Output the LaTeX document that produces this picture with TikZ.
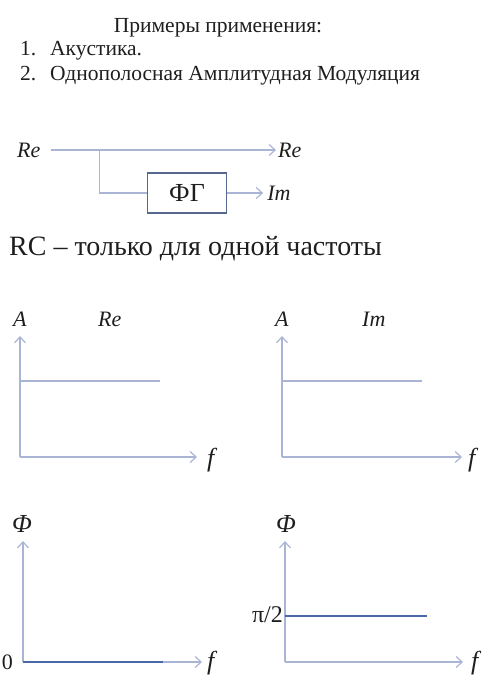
\documentclass[tikz,border=0pt]{standalone}
\usepackage{fontspec}
\setmainfont{Liberation Serif}
\usetikzlibrary{arrows.meta,positioning}

\definecolor{axisblue}{RGB}{170,181,214}
\definecolor{levelblue}{RGB}{74,104,168}
\definecolor{boxline}{RGB}{86,104,142}
\definecolor{inkgray}{RGB}{30,30,30}

\begin{document}
\begin{tikzpicture}[x=1pt, y=-1pt,
    every node/.style={inner sep=0pt, text=inkgray},
    head/.style={font=\fontsize{21.5}{26}\selectfont, anchor=base west},
    var/.style={font=\fontsize{22}{26}\selectfont\itshape, anchor=base west},
    fvar/.style={var, font=\fontsize{26}{30}\selectfont\itshape},
    fgbox/.style={draw=boxline, line width=1.2pt, minimum width=79pt, minimum height=40pt, font=\fontsize{26}{30}\selectfont},
    thin/.style={draw=axisblue, line width=1.2pt},
    line/.style={thin, -{Straight Barb[length=6pt, width=11pt]}},
    level/.style={draw=levelblue, line width=2.4pt}
]
\useasboundingbox (0,0) rectangle (502,689);

% header
\node[head, anchor=base] (title) at (218,32) {Примеры применения:};
\node[head] (num1) at (20,55) {1.};
\node[head] (item1) at (50,55) {Акустика.};
\node[head] (num2) at (20,80) {2.};
\node[head] (item2) at (50,80) {Однополосная Амплитудная Модуляция};

% phase shifter
\node[var, anchor=west] (rein) at (17,150) {Re};
\node[var, anchor=west] (reout) at (278,150) {Re};
\node[fgbox] (fg) at (187,193) {ФГ};
\node[var, anchor=west, right=40pt of fg] (im) {Im};
\coordinate (split) at ([xshift=59pt]rein.east);

\draw[line, shorten <=10pt, shorten >=2pt] (rein) -- (reout);
\draw[thin] (split) |- (fg.west);
\draw[line, shorten >=4pt] (fg) -- (im);

\node[font=\fontsize{28}{33}\selectfont, anchor=base west] (rc) at (9,255) {RC – только для одной частоты};

% axes
\foreach \n/\ox/\oy/\xe in {1/20/457/197, 2/282/457/462, 3/23/662/202, 4/285/662/463} {
  \coordinate (o\n) at (\ox,\oy);
  \coordinate (yt\n) at (\ox,\oy-121);
  \coordinate (xt\n) at (\xe,\oy);
  \draw[line] (o\n) -- (yt\n);
  \draw[line] (o\n) -- (xt\n);
}

% amplitude
\node[var] (amp1) at (13,326) {A};
\node[var] (lre) at (98,326) {Re};
\node[fvar] (f1) at (207,466) {f};
\draw[thin] ([yshift=76pt]o1) -- ([xshift=140pt, yshift=76pt]o1);

\node[var] (amp2) at (275,326) {A};
\node[var] (lim) at (362,326) {Im};
\node[fvar] (f2) at (468,466) {f};
\draw[thin] ([yshift=76pt]o2) -- ([xshift=140pt, yshift=76pt]o2);

% phase
\node[fvar] (ph3) at (12,532) {Φ};
\node[fvar] (f3) at (207,669) {f};
\node[font=\fontsize{22}{26}\selectfont, anchor=east] (zero) at ([xshift=-10pt]o3) {0};
\draw[level] (o3) -- ([xshift=140pt]o3);

\node[fvar] (ph4) at (276,532) {Φ};
\node[fvar] (f4) at (471,669) {f};
\node[font=\fontsize{24}{28}\selectfont, anchor=base east] (half) at (283,622) {π/2};
\draw[level] ([yshift=46pt]o4) -- ([xshift=142pt, yshift=46pt]o4);
\end{tikzpicture}
\end{document}
